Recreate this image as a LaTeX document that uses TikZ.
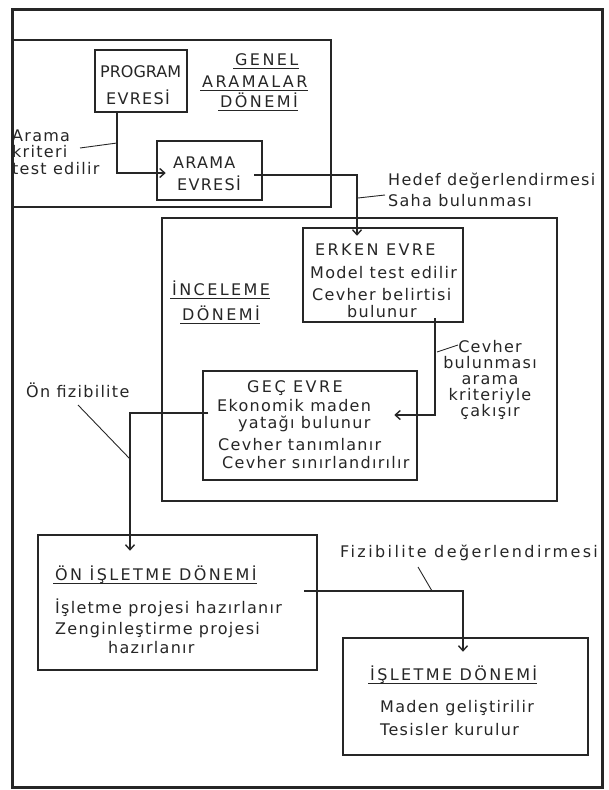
\documentclass[tikz,border=0pt]{standalone}
\usepackage{fontspec}
\setmainfont{DejaVu Sans}
\newfontfamily\lettr{DejaVu Sans}[LetterSpace=8]
\newfontfamily\lettrwide{DejaVu Sans}[LetterSpace=15]
\usetikzlibrary{arrows.meta}
\colorlet{ink}{black!85}
\def\uline#1{\draw[uline] ([xshift=-2pt,yshift=-3pt]#1.base west) -- ([yshift=-3pt]#1.base east);}
\tikzset{
	frame/.style={draw=ink,line width=3pt},
	region/.style={draw=ink,line width=2.6pt,inner sep=0pt},
	box/.style={draw=ink,line width=2.5pt,inner sep=0pt},
	txt/.style={inner sep=0pt,text=ink,anchor=west,font=\lettr\fontsize{16}{16.5}\selectfont},
	tighttxt/.style={txt,font=\fontsize{16}{16.5}\selectfont},
	captxt/.style={inner sep=0pt,text=ink,anchor=west,font=\lettrwide\fontsize{16}{18}\selectfont},
	flow/.style={draw=ink,line width=1.4pt,-{Straight Barb[length=5pt,width=9pt,line width=1.4pt]}},
	leader/.style={draw=ink,line width=0.9pt},
	uline/.style={draw=ink,line width=1.2pt},
	}

\begin{document}
\begin{tikzpicture}[x=1pt,y=-1pt]
\useasboundingbox (0,0) rectangle (608,790);
\draw[frame] (12,9) rectangle (602,787);

% regions
\node (genel) [region, minimum width=319pt, minimum height=167pt] at (171.5,123.5) {};
\node (incel) [region, minimum width=395pt, minimum height=283pt] at (359.5,359.5) {};

% boxes
\node (prog)  [box, minimum width=92pt,  minimum height=62pt]  at (141,81) {};
\node (arama) [box, minimum width=105pt, minimum height=59pt]  at (209.5,170.5) {};
\node (erken) [box, minimum width=160pt, minimum height=94pt]  at (383,275) {};
\node (gec)   [box, minimum width=214pt, minimum height=109pt] at (310,425.5) {};
\node (on)    [box, minimum width=279pt, minimum height=135pt] at (177.5,602.5) {};
\node (islet) [box, minimum width=245pt, minimum height=117pt] at (465.5,696.5) {};

% texts
\node (prog1) [tighttxt] at (100,72) {PROGRAM};
\node (prog2) [txt] at (106,97) {EVRESİ};
\node (gen1) [captxt] at (235,60) {GENEL};
\node (gen2) [captxt] at (202,82) {ARAMALAR};
\node (gen3) [captxt] at (220,100) {DÖNEMİ};
\uline{gen1} \uline{gen2} \uline{gen3}
\node (ara1) [txt] at (173,163) {ARAMA};
\node (ara2) [txt] at (177,183) {EVRESİ};
\node (crit) [txt, align=left] at (12,152) {Arama\\kriteri\\test edilir};
\node (hedef) [txt, align=left, font=\lettr\fontsize{16}{21}\selectfont] at (388,190) {Hedef değerlendirmesi\\Saha bulunması};
\node (inc1) [captxt] at (172,288) {İNCELEME};
\node (inc2) [captxt] at (182,313) {DÖNEMİ};
\uline{inc1} \uline{inc2}
\node (erk1) [captxt] at (315,250) {ERKEN EVRE};
\node (erk2) [txt] at (310,273) {Model test edilir};
\node (erk3) [txt] at (312,295) {Cevher belirtisi};
\node (erk4) [txt] at (347,312) {bulunur};
\node (cakis) [txt, anchor=center, align=center, font=\lettr\fontsize{16}{16.2}\selectfont] at (490,380) {Cevher\\bulunması\\arama\\kriteriyle\\çakışır};
\node (gec1) [captxt] at (247,388) {GEÇ EVRE};
\node (gec2) [txt] at (217,406) {Ekonomik maden};
\node (gec3) [txt] at (238,424) {yatağı bulunur};
\node (gec4) [txt] at (218,445) {Cevher tanımlanır};
\node (gec5) [txt] at (222,463) {Cevher sınırlandırılır};
\node (onfiz) [txt] at (26,390) {Ön fizibilite};
\node (on1) [captxt] at (55,575) {ÖN İŞLETME DÖNEMİ};
\uline{on1}
\node (on2) [txt] at (55,608) {İşletme projesi hazırlanır};
\node (on3) [txt] at (55,630) {Zenginleştirme projesi};
\node (on4) [txt] at (108,648) {hazırlanır};
\node (fiz) [txt, font=\lettrwide\fontsize{16}{16.5}\selectfont] at (340,553) {Fizibilite değerlendirmesi};
\node (isl1) [captxt] at (370,675) {İŞLETME DÖNEMİ};
\uline{isl1}
\node (isl2) [txt] at (380,708) {Maden geliştirilir};
\node (isl3) [txt] at (380,730) {Tesisler kurulur};

% flow
\draw[flow] ([xshift=-24pt]prog.south) |- ([xshift=10pt,yshift=-2.5pt]arama.west);
\draw[flow] ([xshift=-9pt,yshift=-4.5pt]arama.east) -| ([xshift=-26pt,yshift=-9pt]erken.north);
\draw[flow] ([xshift=52pt,yshift=5pt]erken.south) |- ([xshift=-24pt,yshift=10.5pt]gec.east);
\draw[flow] ([xshift=6.5pt,yshift=12.5pt]gec.west) -| ([xshift=-47.5pt,yshift=-17pt]on.north);
\draw[flow] ([xshift=-14pt,yshift=11.5pt]on.east) -| ([xshift=-2.5pt,yshift=-15pt]islet.north);

% leaders
\coordinate (l1a) at (80,148);  \coordinate (l1b) at (117,143);
\coordinate (l2a) at (358,198); \coordinate (l2b) at (385,195);
\coordinate (l3a) at (437,352); \coordinate (l3b) at (458,345);
\coordinate (l4a) at (78,405);  \coordinate (l4b) at (130,459);
\coordinate (l5a) at (418,567); \coordinate (l5b) at (432,591);
\draw[leader] (l1a) -- (l1b);
\draw[leader] (l2a) -- (l2b);
\draw[leader] (l3a) -- (l3b);
\draw[leader] (l4a) -- (l4b);
\draw[leader] (l5a) -- (l5b);
\end{tikzpicture}
\end{document}
